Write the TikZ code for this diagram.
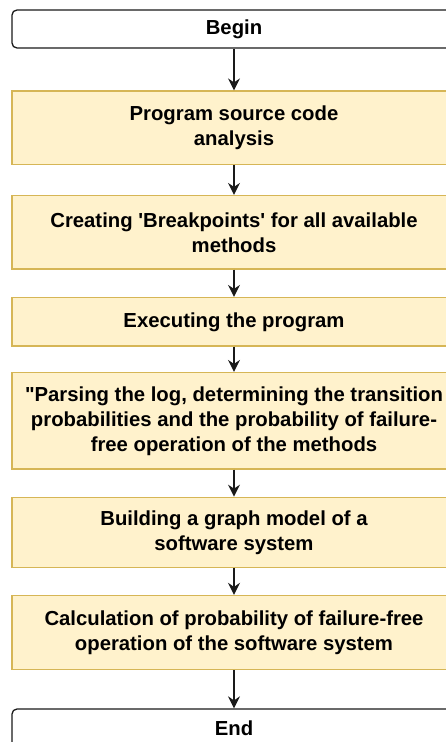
\documentclass[tikz,border=0pt]{standalone}
\usepackage{fontspec}
\setmainfont{Liberation Sans}
\usetikzlibrary{arrows.meta}
\definecolor{boxfill}{HTML}{FFF2CC}
\definecolor{boxedge}{HTML}{D6B656}
\definecolor{lineink}{HTML}{1A1A1A}
\begin{document}
\begin{tikzpicture}[x=1pt,y=1pt,
  txt/.style={font=\bfseries\fontsize{20.3}{25}\selectfont, align=center, inner sep=0pt},
  stepbox/.style={txt, draw=boxedge, fill=boxfill, line width=1.3pt,
    minimum width=444pt},
  termbox/.style={txt, draw=lineink, fill=white, rounded corners=5pt,
    line width=1.3pt, minimum width=444pt, minimum height=38pt},
  flow/.style={draw=lineink, line width=1.5pt,
    -{Stealth[length=12pt,width=12pt,inset=4pt]}}
]
\useasboundingbox (0,0) rectangle (446,-742);
\clip (0,0) rectangle (446,-742);

\node[termbox] (begin) at (234,-29) {Begin};
\node[stepbox, minimum height=73.5pt] (s1) at (234,-127.8)
  {Program source code\\analysis};
\node[stepbox, minimum height=73.5pt] (s2) at (234,-232.3)
  {Creating \textquotesingle Breakpoints\textquotesingle\ for all available\\methods};
\node[stepbox, minimum height=48.5pt] (s3) at (234,-321.8)
  {Executing the program};
\node[stepbox, minimum height=96.5pt] (s4) at (234,-420.8)
  {\textquotedbl Parsing the log, determining the transition\\probabilities and the probability of failure-\\free operation of the methods};
\node[stepbox, minimum height=70pt] (s5) at (234,-532.3)
  {Building a graph model of a\\software system};
\node[stepbox, minimum height=74pt] (s6) at (234,-632.5)
  {Calculation of probability of failure-free\\operation of the software system};
\node[termbox] (end) at (234,-728) {End};

\draw[flow] (begin) -- (s1);
\draw[flow] (s1) -- (s2);
\draw[flow] (s2) -- (s3);
\draw[flow] (s3) -- (s4);
\draw[flow] (s4) -- (s5);
\draw[flow] (s5) -- (s6);
\draw[flow] (s6) -- (end);
\end{tikzpicture}
\end{document}
